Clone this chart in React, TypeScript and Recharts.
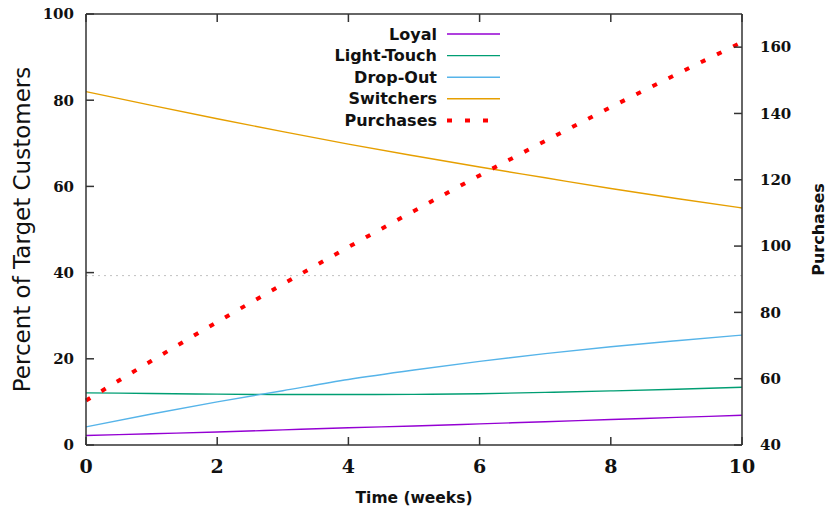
import React from 'react';
import { ComposedChart, Line, XAxis, YAxis, ReferenceLine, Legend } from 'recharts';

const weeks = [0, 1, 2, 3, 4, 5, 6, 7, 8, 9, 10];
const loyal = [2.2, 2.6, 3.0, 3.5, 4.0, 4.4, 4.9, 5.4, 5.9, 6.4, 6.9];
const lightTouch = [12.1, 11.95, 11.8, 11.7, 11.7, 11.75, 11.9, 12.2, 12.55, 12.95, 13.4];
const dropOut = [4.2, 7.2, 10.0, 12.6, 15.2, 17.4, 19.4, 21.2, 22.8, 24.2, 25.5];
const switchers = [82.0, 78.8, 75.7, 72.7, 69.8, 67.1, 64.5, 62.0, 59.5, 57.2, 55.0];
const purchases = [53.4, 65.4, 77.1, 88.5, 99.7, 110.6, 121.3, 131.7, 141.9, 151.8, 161.5];

const xTicks = [0, 2, 4, 6, 8, 10];
const leftTicks = [0, 20, 40, 60, 80, 100];
const rightTicks = [40, 60, 80, 100, 120, 140, 160];
const refLevel = 39.3;

const data = weeks.map((w, i) => ({
  week: w,
  loyal: loyal[i],
  lightTouch: lightTouch[i],
  dropOut: dropOut[i],
  switchers: switchers[i],
  purchases: purchases[i],
}));

const series = [
  { key: 'loyal', name: 'Loyal', color: '#9400d3', axis: 'left', dash: undefined as string | undefined, width: 1.4 },
  { key: 'lightTouch', name: 'Light-Touch', color: '#009e73', axis: 'left', dash: undefined, width: 1.4 },
  { key: 'dropOut', name: 'Drop-Out', color: '#56b4e9', axis: 'left', dash: undefined, width: 1.4 },
  { key: 'switchers', name: 'Switchers', color: '#e69f00', axis: 'left', dash: undefined, width: 1.4 },
  { key: 'purchases', name: 'Purchases', color: '#ff0000', axis: 'right', dash: '5 13', width: 4 },
];

const axisColor = '#333';
const tickFont = { fontFamily: 'DejaVu Serif', fontWeight: 'bold', fontSize: 15, fill: '#111' };
const xTickFont = { ...tickFont, fontSize: 19 };

const LegendBox = () => (
  <svg width={200} height={112}>
    {series.map((s, i) => {
      const cy = 11 + i * 21.6;
      return (
        <g key={s.key}>
          <text x={117} y={cy} textAnchor="end" dominantBaseline="central"
            style={{ fontFamily: 'DejaVu Sans', fontWeight: 'bold', fontSize: 16, fill: '#111' }}>
            {s.name}
          </text>
          <line x1={127} x2={180} y1={cy} y2={cy} stroke={s.color} strokeWidth={s.width} strokeDasharray={s.dash} />
        </g>
      );
    })}
  </svg>
);

export default function App() {
  return (
    <div style={{ position: 'absolute', left: 0, top: 0, width: 830, height: 512, background: '#fff' }}>
      <ComposedChart width={830} height={512} data={data} margin={{ top: 0, right: 0, bottom: 0, left: 0 }}>
        <XAxis xAxisId="bottom" dataKey="week" type="number" domain={[0, 10]} ticks={xTicks}
          orientation="bottom" height={67} stroke={axisColor} strokeWidth={1.5}
          tickSize={-8} tickMargin={23} tick={xTickFont} interval={0}
          label={({ viewBox }: any) => (
            <text x={viewBox.x + viewBox.width / 2} y={viewBox.y + 53} textAnchor="middle" dominantBaseline="central"
              style={{ fontFamily: 'DejaVu Sans', fontWeight: 'bold', fontSize: 15.5, fill: '#111' }}>
              Time (weeks)
            </text>
          )} />
        <XAxis xAxisId="top" dataKey="week" type="number" domain={[0, 10]} ticks={xTicks}
          orientation="top" height={14} stroke={axisColor} strokeWidth={1.5}
          tickSize={-8} tickFormatter={() => ''} interval={0} />
        <YAxis yAxisId="left" orientation="left" domain={[0, 100]} ticks={leftTicks} width={86}
          stroke={axisColor} strokeWidth={1.5} tickSize={-8} tickMargin={20} tick={tickFont} interval={0}
          label={({ viewBox }: any) => {
            const cx = viewBox.x + 22;
            const cy = viewBox.y + viewBox.height / 2;
            return (
              <text x={cx} y={cy} transform={`rotate(-90 ${cx} ${cy})`} textAnchor="middle" dominantBaseline="central"
                style={{ fontFamily: 'DejaVu Sans', fontSize: 23, fill: '#111' }}>
                Percent of Target Customers
              </text>
            );
          }} />
        <YAxis yAxisId="right" orientation="right" domain={[40, 170]} ticks={rightTicks} width={88}
          stroke={axisColor} strokeWidth={1.5} tickSize={-8} tickMargin={26} tick={tickFont} interval={0}
          label={({ viewBox }: any) => {
            const cx = viewBox.x + 76;
            const cy = viewBox.y + viewBox.height / 2;
            return (
              <text x={cx} y={cy} transform={`rotate(-90 ${cx} ${cy})`} textAnchor="middle" dominantBaseline="central"
                style={{ fontFamily: 'DejaVu Sans', fontWeight: 'bold', fontSize: 16, fill: '#111' }}>
                Purchases
              </text>
            );
          }} />
        <ReferenceLine yAxisId="left" xAxisId="bottom" y={refLevel} stroke="#c0c0c0" strokeDasharray="2 4" strokeWidth={1} />
        {series.map((s) => (
          <Line key={s.key} xAxisId="bottom" yAxisId={s.axis} dataKey={s.key} name={s.name}
            type="monotone" stroke={s.color} strokeWidth={s.width} strokeDasharray={s.dash}
            dot={false} activeDot={false} isAnimationActive={false} />
        ))}
        <Legend layout="vertical" verticalAlign="middle" align="center"
          wrapperStyle={{ position: 'absolute', left: 320, top: 23, width: 200, height: 112 }}
          content={() => <LegendBox />} />
      </ComposedChart>
    </div>
  );
}
